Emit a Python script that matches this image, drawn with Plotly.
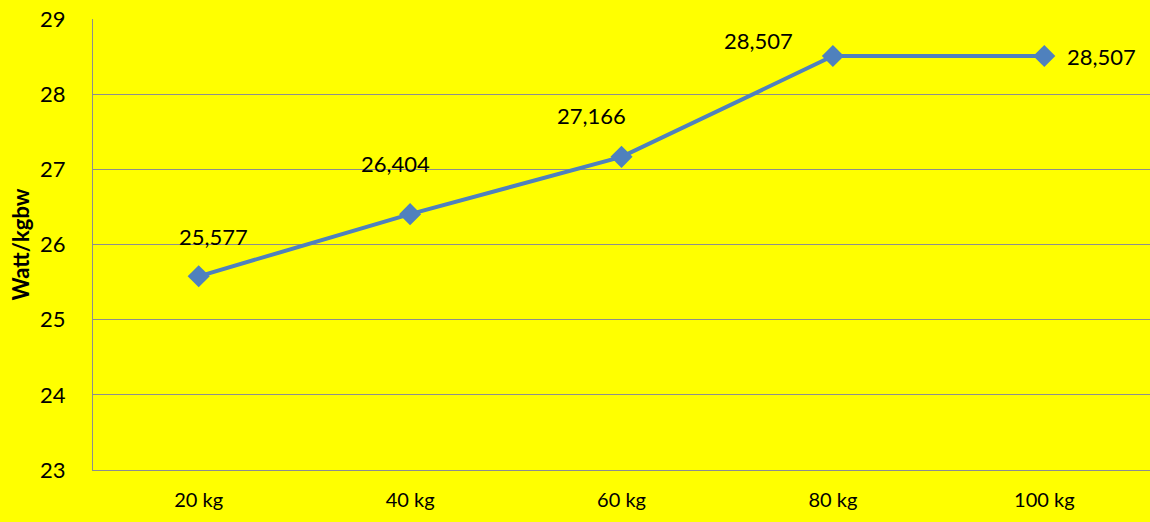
import plotly.graph_objects as go

categories = ["20 kg", "40 kg", "60 kg", "80 kg", "100 kg"]
values = [25.577, 26.404, 27.166, 28.507, 28.507]
value_labels = ["25,577", "26,404", "27,166", "28,507", "28,507"]
y_ticks = [23, 24, 25, 26, 27, 28, 29]

# label offsets in pixels (x, y) relative to each point
label_offsets = [(15, -40), (-15, -51), (-30, -41), (-74, -16), (57, 0)]

FONT = "Lato"
LINE_BLUE = "#4F81BD"
GRID = "#8E8E8E"

fig = go.Figure()
fig.add_trace(go.Scatter(
    x=categories, y=values, mode="lines+markers",
    line=dict(color=LINE_BLUE, width=4),
    marker=dict(symbol="diamond", size=17, color=LINE_BLUE),
    hoverinfo="skip", showlegend=False,
))

for cat, val, txt, (dx, dy) in zip(categories, values, value_labels, label_offsets):
    fig.add_annotation(
        x=cat, y=val, text=txt, showarrow=False,
        xshift=dx, yshift=-dy,
        font=dict(family=FONT, size=22, color="#000000"),
    )

fig.update_layout(
    width=1150, height=522,
    margin=dict(l=93, r=0, t=19, b=52),
    paper_bgcolor="#FFFF00", plot_bgcolor="#FFFF00",
    font=dict(family=FONT, size=20, color="#000000"),
)
fig.update_xaxes(
    type="category", range=[-0.5, 4.5],
    showgrid=False, showline=True, linecolor=GRID, linewidth=1,
    ticks="", ticklabelstandoff=12,
    tickfont=dict(family=FONT, size=20),
)
fig.update_yaxes(
    range=[23, 29], tickvals=y_ticks,
    showgrid=True, gridcolor=GRID, gridwidth=1,
    showline=True, linecolor=GRID, linewidth=1,
    zeroline=False, ticks="", ticklabelstandoff=22,
    tickfont=dict(family=FONT, size=22),
    title=dict(text="<b>Watt/kgbw</b>", font=dict(family=FONT, size=22), standoff=4),
)

fig.write_html("out.html")
